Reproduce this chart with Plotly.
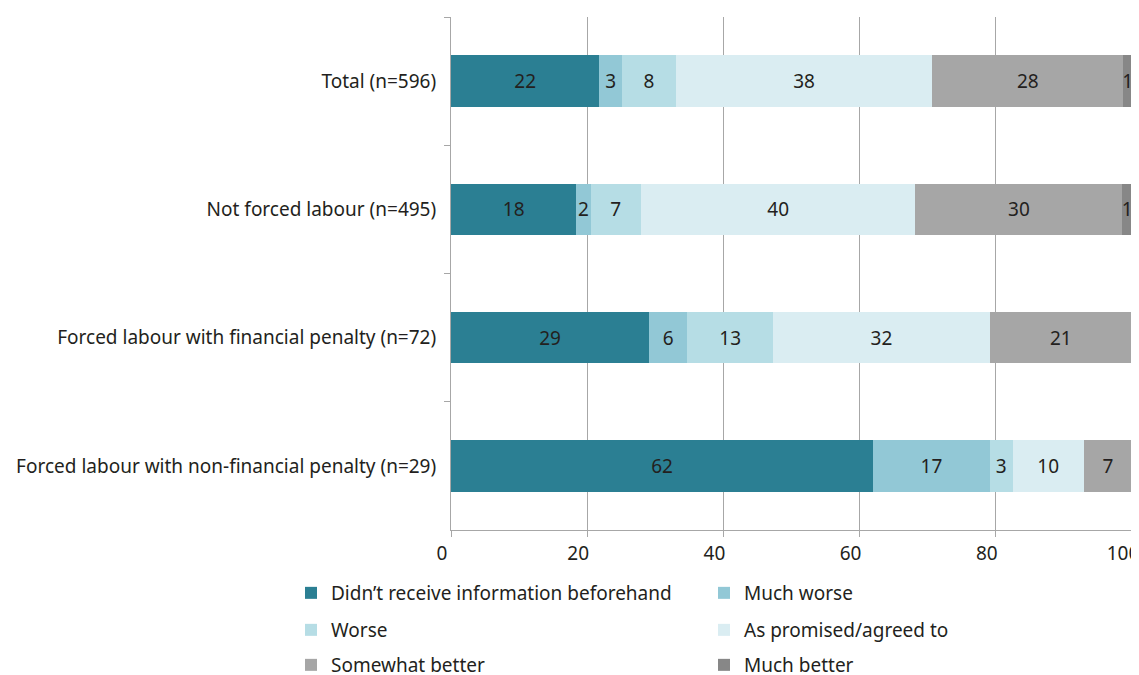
import plotly.graph_objects as go

categories = [
    "Total (n=596)",
    "Not forced labour (n=495)",
    "Forced labour with financial penalty (n=72)",
    "Forced labour with non-financial penalty (n=29)",
]
series_names = [
    "Didn’t receive information beforehand",
    "Much worse",
    "Worse",
    "As promised/agreed to",
    "Somewhat better",
    "Much better",
]
didnt_receive = [21.8, 18.4, 29.1, 62.0]
much_worse = [3.3, 2.1, 5.6, 17.1]
worse = [7.9, 7.4, 12.6, 3.4]
as_promised = [37.7, 40.3, 31.8, 10.4]
somewhat_better = [28.0, 30.4, 20.9, 7.1]
much_better = [1.3, 1.4, 0.0, 0.0]
x_ticks = [0, 20, 40, 60, 80, 100]

values = [didnt_receive, much_worse, worse, as_promised, somewhat_better, much_better]
colors = ["#2B7F93", "#92C8D6", "#B6DDE5", "#DAEDF2", "#A6A6A6", "#878787"]
legend_ids = ["legend", "legend", "legend2", "legend2", "legend3", "legend3"]

FONT = "Noto Sans"
TXT = "#231F20"
FS = 19

# page body has an 8px margin: figure is sized/offset to compensate
W, H = 1131, 667
ML, MR, MT, MB = 443, 7, 9, 145
PW, PH = W - ML - MR, H - MT - MB

fig = go.Figure()
for name, vals, col, lg in zip(series_names, values, colors, legend_ids):
    labels = [f"{round(v)}" if v > 0 else "" for v in vals]
    fig.add_trace(go.Bar(
        y=categories, x=vals, name=name, orientation="h",
        marker=dict(color=col, line=dict(width=0)),
        text=labels, textposition="inside", insidetextanchor="middle",
        textfont=dict(family=FONT, size=FS, color=TXT),
        cliponaxis=False, legend=lg,
    ))

def leg(row_center_px):
    return dict(
        orientation="h",
        x=(283 - ML) / PW, xanchor="left",
        y=-(row_center_px - (MT + PH)) / PH, yanchor="middle",
        entrywidth=368, entrywidthmode="pixels",
        font=dict(family=FONT, size=FS, color=TXT),
        itemwidth=30, traceorder="normal", bgcolor="rgba(0,0,0,0)",
    )

fig.update_layout(
    barmode="stack",
    bargap=0.6,
    width=W, height=H,
    margin=dict(l=ML, r=MR, t=MT, b=MB, autoexpand=False),
    paper_bgcolor="white", plot_bgcolor="white",
    font=dict(family=FONT, size=FS, color=TXT),
    uniformtext=dict(minsize=FS, mode="show"),
    xaxis=dict(
        range=[0, 100], tickvals=x_ticks,
        showgrid=True, gridcolor="#A7A7A7", gridwidth=1,
        showline=True, linecolor="#A7A7A7", linewidth=1,
        ticks="outside", ticklen=6, tickcolor="#A7A7A7", automargin=False,
        ticklabeloverflow="allow", ticklabelshift=-9,
        tickfont=dict(family=FONT, size=FS, color=TXT), zeroline=False,
    ),
    yaxis=dict(
        categoryorder="array", categoryarray=categories, autorange="reversed",
        showline=True, linecolor="#A7A7A7", linewidth=1, automargin=False,
        ticks="outside", ticklen=6, tickcolor="#A7A7A7", tickson="boundaries",
        tickfont=dict(family=FONT, size=FS, color=TXT), ticklabelstandoff=10,
        showgrid=False,
    ),
    legend=leg(585),
    legend2=leg(622),
    legend3=leg(657),
)

fig.write_html("out.html")
